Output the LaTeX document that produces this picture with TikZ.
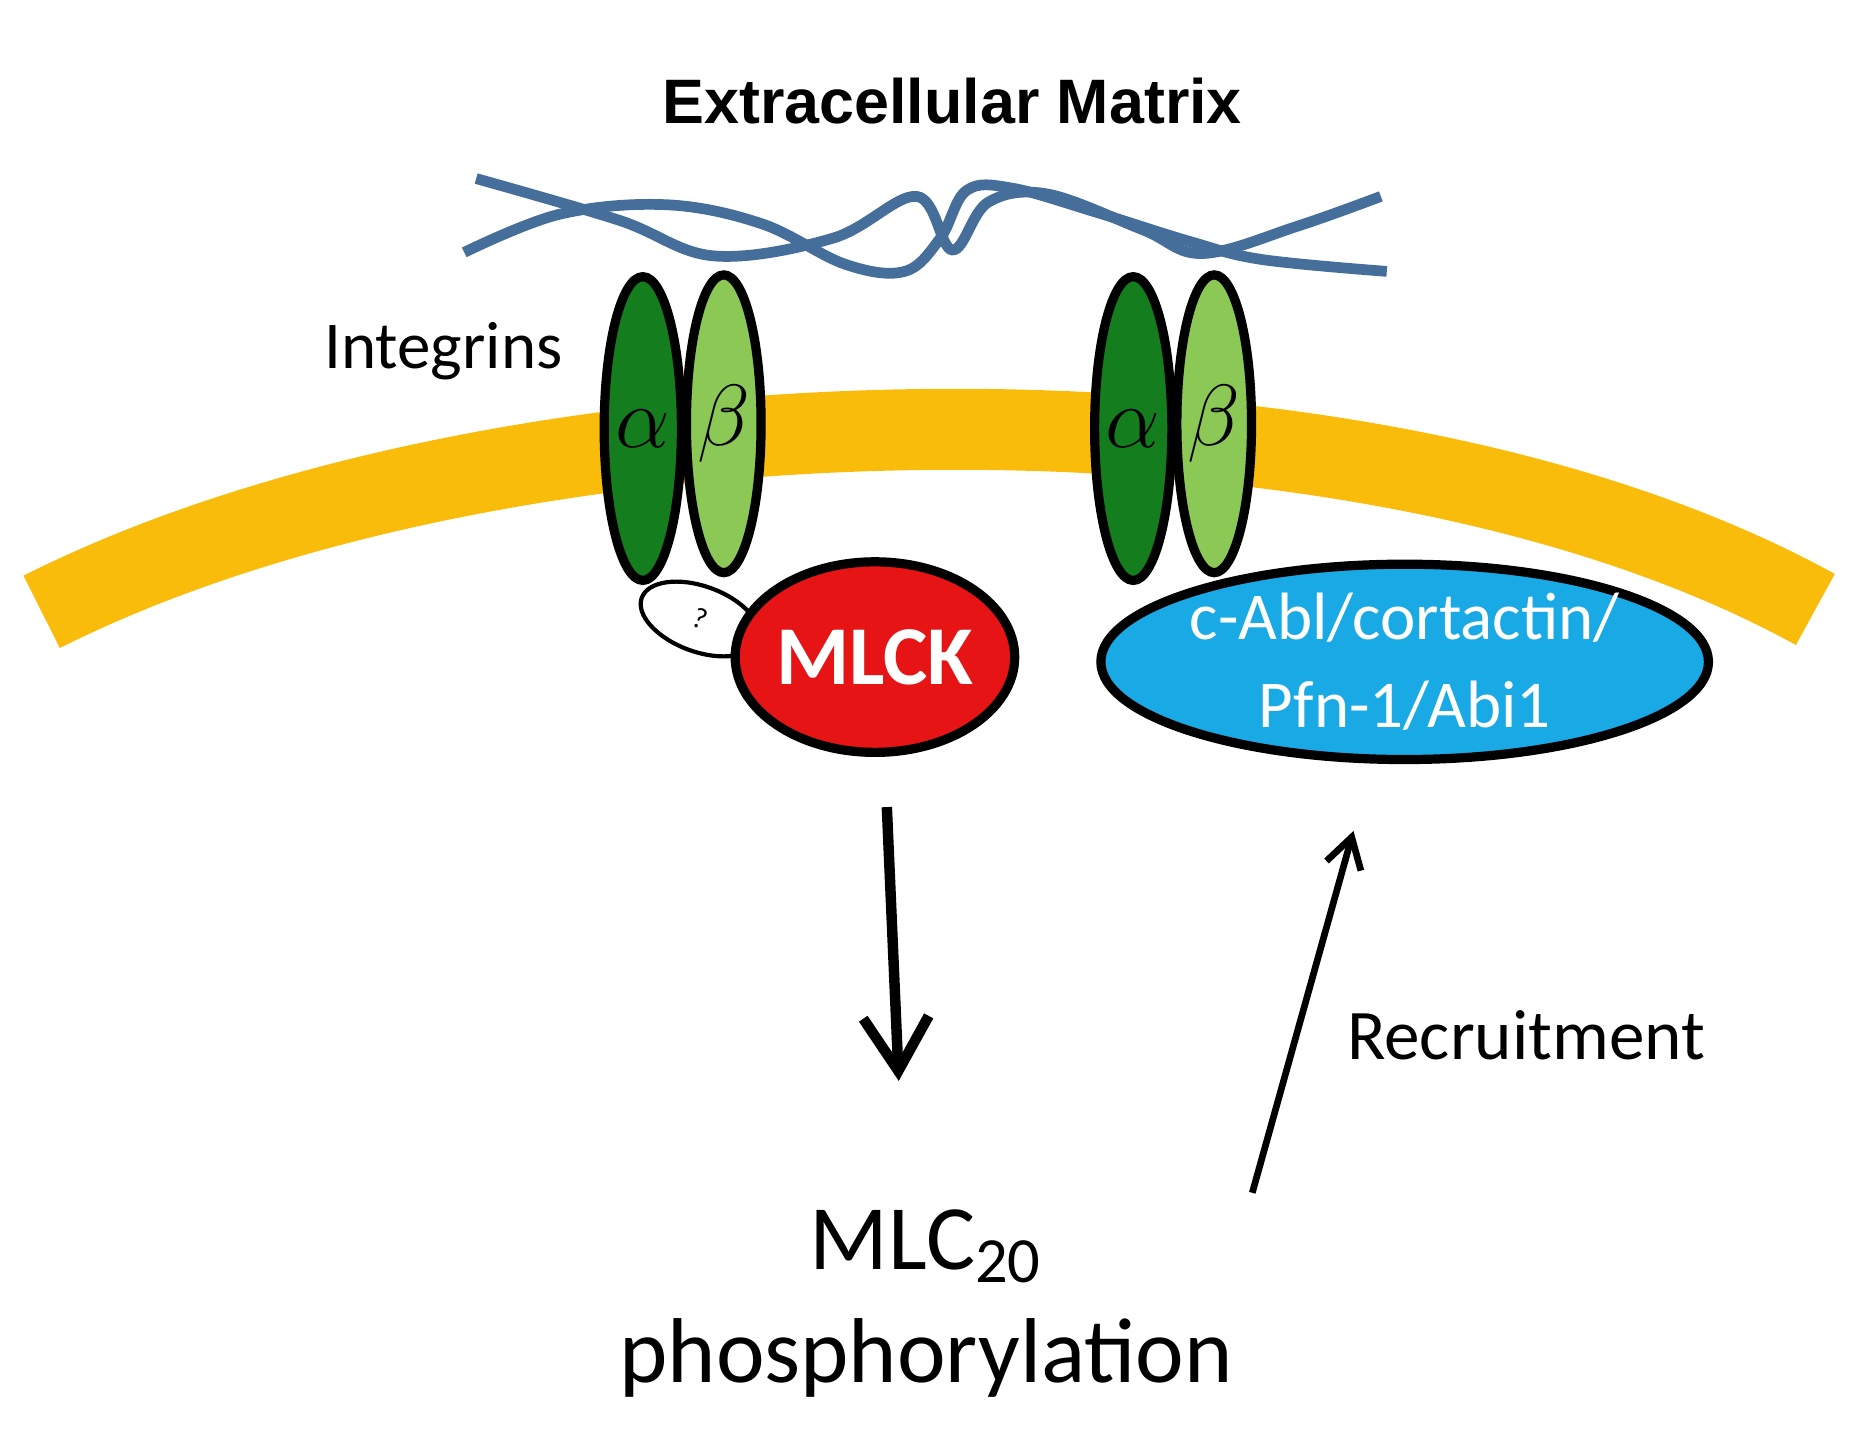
\documentclass[tikz,border=0pt]{standalone}
\usepackage{fontspec}
\setmainfont{Carlito}
\newfontfamily\titlefont{Liberation Sans}
\usetikzlibrary{shapes.geometric,arrows.meta}
\definecolor{memb}{RGB}{250,188,10}
\definecolor{fiber}{RGB}{70,110,155}
\definecolor{alphag}{RGB}{20,125,30}
\definecolor{betag}{RGB}{140,200,85}
\definecolor{mlck}{RGB}{230,20,20}
\definecolor{abl}{RGB}{25,170,230}
\begin{document}
\begin{tikzpicture}[x=0.01cm,y=-0.01cm,
  integ/.style={ellipse,draw=black,line width=2.2pt,inner sep=0pt,font=\fontsize{22}{24}\selectfont},
  prot/.style={ellipse,draw=black,line width=2.2pt,inner sep=0pt,align=center},
  lbl/.style={font=\fontsize{16}{19}\selectfont}]
\useasboundingbox (0,0) rectangle (1560,1215);
% membrane
\draw[memb,line width=0.68cm] (35,514) .. controls (420,320) and (1140,300) .. (1525,512);
% fibers
\draw[fiber,line width=0.09cm,smooth,tension=0.6] plot coordinates {(400,150) (520,185) (600,215) (700,200) (770,165) (800,210) (830,170) (880,163) (960,193) (1010,213) (1090,190) (1160,165)};
\draw[fiber,line width=0.09cm,smooth,tension=0.6] plot coordinates {(390,212) (470,180) (560,172) (640,188) (710,222) (760,228) (790,200) (812,160) (850,158) (920,178) (1000,203) (1060,218) (1165,228)};
\node[font=\fontsize{15}{18}\bfseries\titlefont] (title) at (800,85) {Extracellular Matrix};
% integrins
\node[integ,fill=alphag,minimum width=0.64cm,minimum height=2.55cm] (a1) at (540,360) {$\alpha$};
\node[integ,fill=betag,minimum width=0.62cm,minimum height=2.5cm] (b1) at (608,356) {$\beta$};
\node[integ,fill=alphag,minimum width=0.64cm,minimum height=2.55cm] (a2) at (952,360) {$\alpha$};
\node[integ,fill=betag,minimum width=0.62cm,minimum height=2.5cm] (b2) at (1020,356) {$\beta$};
\node[lbl,anchor=east] (integrins) at (485,295) {Integrins};
% proteins
\node[prot,fill=white,minimum width=1.04cm,minimum height=0.55cm,rotate=-20,line width=1pt,font=\fontsize{7}{8}\selectfont] (q) at (588,520) {?};
\node[prot,fill=mlck,minimum width=2.25cm,minimum height=1.6cm,text=white,font=\fontsize{20}{24}\bfseries] (mlck) at (735,552) {MLCK};
\node[prot,fill=abl,minimum width=4.1cm,minimum height=1.64cm,text=white,font=\fontsize{16}{21}\selectfont] (abl) at (1180,556) {c-Abl/cortactin/\\Pfn-1/Abi1};
% texts
\node[font=\fontsize{22}{27}\selectfont,align=center] (mlc) at (778,1095) {MLC\textsubscript{20}\\phosphorylation};
\node[font=\fontsize{17}{20}\selectfont] (rec) at (1282,870) {Recruitment};
% arrows
\coordinate (d1) at (745,678);
\coordinate (d2) at (755,908);
\coordinate (u1) at (1052,1002);
\coordinate (u2) at (1137,698);
\draw[line width=2.5pt,-{Straight Barb[length=0.45cm,width=0.55cm,line width=2.5pt]}] (d1) -- (d2);
\draw[line width=1.6pt,-{Straight Barb[length=0.25cm,width=0.3cm,line width=1.6pt]}] (u1) -- (u2);
\end{tikzpicture}
\end{document}
